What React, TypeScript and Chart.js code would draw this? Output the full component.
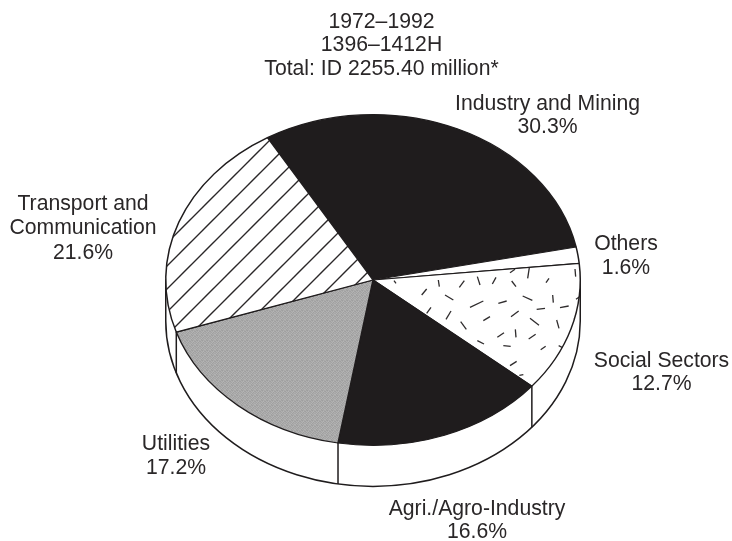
import React, { useEffect, useRef } from "react";
import { Chart, registerables } from "chart.js";

Chart.register(...registerables);

const titleLines = ["1972–1992", "1396–1412H", "Total: ID 2255.40 million*"];
const categories = ["Industry and Mining", "Others", "Social Sectors", "Agri./Agro-Industry", "Utilities", "Transport and Communication"];
const shares = [30.3, 1.6, 12.7, 16.6, 17.2, 21.6];

const INK = "#1f1c1d";
const CX = 373;
const CY = 280;
const RY = 166;
const RX = 208;
const K = RY / RX;
const DEPTH = 41;
const FONT = '21.2px "Liberation Sans", Arial, sans-serif';

// label layout: [centre x, centre y of each line]
const labelLayout: { x: number; ys: number[]; lines: string[] }[] = [
  { x: 381.5, ys: [22, 45, 69], lines: titleLines },
  { x: 547.5, ys: [104, 127], lines: [categories[0], shares[0] + "%"] },
  { x: 626, ys: [244, 268], lines: [categories[1], shares[1] + "%"] },
  { x: 661.5, ys: [361, 384], lines: [categories[2], shares[2] + "%"] },
  { x: 477, ys: [509, 532], lines: [categories[3], shares[3] + "%"] },
  { x: 176, ys: [444, 468], lines: [categories[4], shares[4] + "%"] },
  { x: 83, ys: [204, 228, 253], lines: ["Transport and", "Communication", shares[5] + "%"] },
];

// decorative dashes of the "Social Sectors" fill, measured in a 230x240 tile
const dashTile = [
  [72,152,78,160],[205,150,208,170],[155,195,170,177],[268,172,283,152],[322,140,330,165],[367,162,378,142],
  [425,153,438,170],[420,128,435,118],[478,113,473,145],[528,158,537,145],[615,117,617,140],[225,195,250,210],
  [300,232,340,213],[385,220,410,213],[458,198,487,211],[548,195,550,218],[618,208,632,198],[500,238,525,235],
  [570,233,596,228],[170,250,183,232],[228,268,243,243],[340,272,360,260],[423,260,446,243],[480,265,507,286],
  [560,270,567,295],[272,275,289,298],[382,322,402,308],[436,298,438,322],[476,327,497,313],[322,332,342,342],
  [400,347,422,349],[512,359,527,349],[566,347,580,354],[420,407,440,394],[448,436,460,434],[612,268,620,262],
];
const grayTile = [
  "aea39eaca7",
  "a0b0a8b5a2",
  "aaa3b29faf",
  "a5b4a0ada8",
  "b1a0aea6b3",
];

function tile(w: number, h: number, draw: (c: CanvasRenderingContext2D) => void) {
  const cv = document.createElement("canvas");
  cv.width = w;
  cv.height = h;
  draw(cv.getContext("2d")!);
  return cv;
}

// patterns are painted under the flattened context, so undo the flattening
function mkPattern(ctx: CanvasRenderingContext2D, cv: HTMLCanvasElement, ox: number, oy: number) {
  const p = ctx.createPattern(cv, "repeat")!;
  p.setTransform(new DOMMatrix([1, 0, 0, 1 / K, ox, CY + (oy - CY) / K]));
  return p;
}

function hatch(ctx: CanvasRenderingContext2D) {
  return mkPattern(ctx, tile(23, 23, (c) => {
    c.fillStyle = "#fff";
    c.fillRect(0, 0, 23, 23);
    c.strokeStyle = "#2a2728";
    c.lineWidth = 1.4;
    c.beginPath();
    c.moveTo(-2, 25);
    c.lineTo(25, -2);
    c.moveTo(-2, 2);
    c.lineTo(2, -2);
    c.moveTo(21, 25);
    c.lineTo(25, 21);
    c.stroke();
  }), 19, 0);
}

function dashes(ctx: CanvasRenderingContext2D) {
  return mkPattern(ctx, tile(230, 240, (c) => {
    c.fillStyle = "#fff";
    c.fillRect(0, 0, 230, 240);
    c.strokeStyle = "#2f2c2d";
    c.lineWidth = 1.3;
    for (const [a, b, d, e] of dashTile) {
      c.beginPath();
      c.moveTo(a / 3, b / 3);
      c.lineTo(d / 3, e / 3);
      c.stroke();
    }
  }), 370, 230);
}

function gray(ctx: CanvasRenderingContext2D) {
  return mkPattern(ctx, tile(5, 5, (c) => {
    grayTile.forEach((row, y) => {
      for (let x = 0; x < 5; x++) {
        const v = row.slice(x * 2, x * 2 + 2);
        c.fillStyle = "#" + v + v + v;
        c.fillRect(x, y, 1, 1);
      }
    });
  }), 0, 0);
}

const piePlugin = {
  id: "tiltedPie",
  beforeDatasetsDraw(chart: any) {
    const ctx: CanvasRenderingContext2D = chart.ctx;
    const arcs = chart.getDatasetMeta(0).data;
    const { x, y, outerRadius: r } = arcs[0];
    const ry = r * K;
    // the rim below the top face
    ctx.save();
    ctx.strokeStyle = INK;
    ctx.lineWidth = 1.5;
    ctx.fillStyle = "#fff";
    ctx.beginPath();
    ctx.moveTo(x + r, y);
    ctx.lineTo(x + r, y + DEPTH);
    ctx.ellipse(x, y + DEPTH, r, ry, 0, 0, Math.PI);
    ctx.lineTo(x - r, y);
    ctx.closePath();
    ctx.fill();
    ctx.stroke();
    for (const a of arcs) {
      const s = Math.sin(a.endAngle);
      if (s > 0.2) {
        const px = x + r * Math.cos(a.endAngle);
        const py = y + ry * s;
        ctx.beginPath();
        ctx.moveTo(px, py);
        ctx.lineTo(px, py + DEPTH);
        ctx.stroke();
      }
    }
    ctx.restore();
    // flatten the top face into an ellipse
    ctx.save();
    ctx.translate(0, y);
    ctx.scale(1, K);
    ctx.translate(0, -y);
  },
  afterDatasetsDraw(chart: any) {
    chart.ctx.restore();
  },
  afterDraw(chart: any) {
    const ctx: CanvasRenderingContext2D = chart.ctx;
    ctx.save();
    ctx.font = FONT;
    ctx.fillStyle = "#2a2728";
    ctx.textAlign = "center";
    ctx.textBaseline = "middle";
    for (const l of labelLayout) {
      l.lines.forEach((t, i) => ctx.fillText(t, l.x, l.ys[i]));
    }
    ctx.restore();
  },
};

export default function App() {
  const ref = useRef<HTMLCanvasElement>(null);
  useEffect(() => {
    const canvas = ref.current!;
    const ctx = canvas.getContext("2d")!;
    const chart = new Chart(canvas, {
      type: "pie",
      data: {
        labels: categories,
        datasets: [
          {
            data: shares,
            backgroundColor: [INK, "#ffffff", dashes(ctx), INK, gray(ctx), hatch(ctx)],
            borderColor: INK,
            borderWidth: 1.5,
            clip: false,
          } as any,
        ],
      },
      options: {
        responsive: false,
        animation: false,
        rotation: -30.6,
        layout: { padding: { left: CX - RX, right: 732 - CX - RX, top: CY - RX, bottom: 541 - CY - RX } },
        plugins: { legend: { display: false }, tooltip: { enabled: false }, title: { display: false } },
      },
      plugins: [piePlugin],
    });
    return () => chart.destroy();
  }, []);
  return (
    <div style={{ position: "absolute", left: 0, top: 0, width: 732, height: 541, background: "#fff" }}>
      <canvas ref={ref} width={732} height={541} style={{ display: "block", width: 732, height: 541 }} />
    </div>
  );
}
